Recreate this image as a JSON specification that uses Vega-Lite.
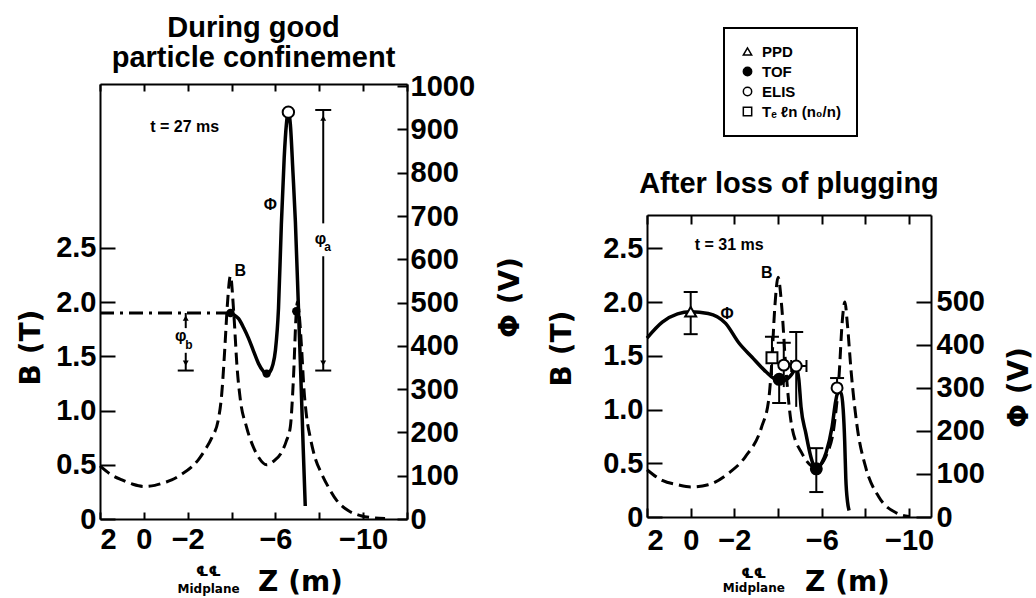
{
  "$schema": "https://vega.github.io/schema/vega-lite/v6.json",
  "background": "white",
  "padding": {"left": 17, "top": 14, "right": 0, "bottom": 0},
  "bounds": "flush",
  "spacing": 240,
  "config": {
    "view": {"stroke": null},
    "axis": {"domainColor": "black", "domainWidth": 2, "tickColor": "black", "tickWidth": 2, "labelColor": "black", "labelFont": "Liberation Sans", "labelFontWeight": "bold", "labelFontSize": 29, "grid": false, "titleColor": "black", "labelOverlap": false, "titleFont": "DejaVu Sans", "titleFontWeight": "bold", "titleFontSize": 28},
    "legend": {"strokeWidth": 2}
  },
  "datasets": {
    "bL": [{"z":2,"b":0.49},{"z":1.5,"b":0.41},{"z":1,"b":0.36},{"z":0.5,"b":0.32},{"z":0,"b":0.30},{"z":-0.5,"b":0.31},{"z":-1.0,"b":0.34},{"z":-1.27,"b":0.36},{"z":-1.7,"b":0.41},{"z":-2.18,"b":0.48},{"z":-2.5,"b":0.55},{"z":-2.8,"b":0.64},{"z":-3.1,"b":0.75},{"z":-3.4,"b":0.92},{"z":-3.55,"b":1.15},{"z":-3.7,"b":1.6},{"z":-3.8,"b":1.95},{"z":-3.95,"b":2.24},{"z":-4.1,"b":1.9},{"z":-4.25,"b":1.4},{"z":-4.4,"b":1.1},{"z":-4.68,"b":0.85},{"z":-5.0,"b":0.66},{"z":-5.23,"b":0.57},{"z":-5.6,"b":0.50},{"z":-5.9,"b":0.53},{"z":-6.27,"b":0.61},{"z":-6.5,"b":0.72},{"z":-6.68,"b":0.85},{"z":-6.82,"b":1.29},{"z":-6.95,"b":1.9},{"z":-7.0,"b":2.0},{"z":-7.1,"b":1.85},{"z":-7.2,"b":1.55},{"z":-7.3,"b":1.2},{"z":-7.4,"b":0.98},{"z":-7.6,"b":0.74},{"z":-7.8,"b":0.57},{"z":-8.1,"b":0.42},{"z":-8.4,"b":0.30},{"z":-8.8,"b":0.17},{"z":-9.3,"b":0.08},{"z":-9.9,"b":0.03},{"z":-10.5,"b":0.01},{"z":-11.0,"b":0.005}],
    "phiL": [{"z":-3.95,"phi":476},{"z":-4.1,"phi":472},{"z":-4.32,"phi":463},{"z":-4.55,"phi":442},{"z":-4.77,"phi":418},{"z":-5.0,"phi":388},{"z":-5.23,"phi":359},{"z":-5.45,"phi":341},{"z":-5.6,"phi":335},{"z":-5.75,"phi":340},{"z":-5.88,"phi":356},{"z":-6.0,"phi":390},{"z":-6.14,"phi":487},{"z":-6.27,"phi":680},{"z":-6.4,"phi":835},{"z":-6.5,"phi":912},{"z":-6.59,"phi":940},{"z":-6.68,"phi":912},{"z":-6.8,"phi":800},{"z":-6.91,"phi":687},{"z":-7.05,"phi":487},{"z":-7.18,"phi":297},{"z":-7.27,"phi":159},{"z":-7.36,"phi":30}],
    "dashL": [{"z":2,"phi":476},{"z":-3.95,"phi":476}],
    "openL": [{"z":-6.59,"phi":940}],
    "filledL": [{"z":-3.95,"phi":476},{"z":-5.6,"phi":336},{"z":-6.95,"phi":480}],
    "ruleL": [{"z":-8.18,"phi":945,"phi2":683},{"z":-8.18,"phi":607,"phi2":343},{"z":-1.91,"phi":476,"phi2":441},{"z":-1.91,"phi":384,"phi2":343}],
    "capL": [{"z":-8.18,"phi":945},{"z":-8.18,"phi":343},{"z":-1.91,"phi":343}],
    "upL": [{"z":-8.18,"phi":926},{"z":-1.91,"phi":464}],
    "downL": [{"z":-8.18,"phi":360},{"z":-1.91,"phi":360}],
    "t16L": [{"z":-1.86,"phi":906,"label":"t = 27 ms"}],
    "t15L": [{"z":-5.77,"phi":726,"label":"Φ"},{"z":-4.4,"phi":572,"label":"B"},{"z":-8.05,"phi":646,"label":"φ"},{"z":-1.68,"phi":423,"label":"φ"}],
    "subL": [{"z":-8.38,"phi":628,"label":"a"},{"z":-2.05,"phi":402,"label":"b"}],
    "clL": [{"z":-2.95,"phi":-122,"label":"℄℄"}],
    "midL": [{"z":-2.95,"phi":-161,"label":"Midplane"}],
    "bR": [{"z":2,"b":0.44},{"z":1.3,"b":0.34},{"z":0.6,"b":0.30},{"z":0,"b":0.28},{"z":-0.8,"b":0.30},{"z":-1.75,"b":0.41},{"z":-2.5,"b":0.56},{"z":-3.25,"b":0.84},{"z":-3.57,"b":1.09},{"z":-3.7,"b":1.40},{"z":-3.85,"b":1.95},{"z":-4.0,"b":2.23},{"z":-4.17,"b":1.95},{"z":-4.35,"b":1.40},{"z":-4.63,"b":0.84},{"z":-5.1,"b":0.59},{"z":-5.73,"b":0.46},{"z":-6.24,"b":0.59},{"z":-6.56,"b":0.84},{"z":-6.8,"b":1.34},{"z":-6.93,"b":1.80},{"z":-7.06,"b":2.0},{"z":-7.17,"b":1.80},{"z":-7.35,"b":1.34},{"z":-7.62,"b":0.84},{"z":-8.0,"b":0.47},{"z":-8.6,"b":0.19},{"z":-9.4,"b":0.04},{"z":-10.0,"b":0.005}],
    "phiR": [{"z":2,"phi":416},{"z":1.3,"phi":453},{"z":0.6,"phi":472},{"z":0,"phi":477},{"z":-0.8,"phi":473},{"z":-1.6,"phi":450},{"z":-2.2,"phi":405},{"z":-2.8,"phi":372},{"z":-3.46,"phi":337},{"z":-3.9,"phi":320},{"z":-4.3,"phi":318},{"z":-4.6,"phi":330},{"z":-4.85,"phi":346},{"z":-4.95,"phi":320},{"z":-5.05,"phi":256},{"z":-5.27,"phi":195},{"z":-5.5,"phi":140},{"z":-5.73,"phi":112},{"z":-6.0,"phi":126},{"z":-6.2,"phi":150},{"z":-6.47,"phi":209},{"z":-6.64,"phi":270},{"z":-6.75,"phi":292},{"z":-6.88,"phi":288},{"z":-6.98,"phi":250},{"z":-7.05,"phi":175},{"z":-7.1,"phi":90},{"z":-7.18,"phi":35},{"z":-7.25,"phi":15}],
    "ptsR": [{"z":0,"phi":477,"method":"PPD"},{"z":-4.05,"phi":320,"method":"TOF"},{"z":-5.75,"phi":112,"method":"TOF"},{"z":-4.26,"phi":353,"method":"ELIS"},{"z":-4.83,"phi":351,"method":"ELIS"},{"z":-6.7,"phi":300,"method":"ELIS"},{"z":-3.72,"phi":370,"method":"Tₑ ℓn (n₀/n)"}],
    "errR": [{"z":0,"phi":425,"phi2":523},{"z":-3.72,"phi":330,"phi2":419},{"z":-4.05,"phi":265,"phi2":320},{"z":-4.26,"phi":302,"phi2":405},{"z":-4.83,"phi":256,"phi2":430},{"z":-5.75,"phi":58,"phi2":160},{"z":-6.7,"phi":300,"phi2":323}],
    "capR": [{"z":0,"phi":425},{"z":0,"phi":523},{"z":-3.72,"phi":419},{"z":-4.05,"phi":265},{"z":-4.26,"phi":405},{"z":-4.83,"phi":430},{"z":-5.75,"phi":58},{"z":-5.75,"phi":160},{"z":-6.7,"phi":323}],
    "herrR": [{"z":-4.6,"z2":-5.3,"phi":351}],
    "vcapR": [{"z":-4.6,"phi":351},{"z":-5.3,"phi":351}],
    "t16R": [{"z":-1.76,"phi":632,"label":"t = 31 ms"}],
    "t15R": [{"z":-1.67,"phi":472,"label":"Φ"},{"z":-3.48,"phi":567,"label":"B"}],
    "clR": [{"z":-2.89,"phi":-133,"label":"℄℄"}],
    "midR": [{"z":-2.89,"phi":-165,"label":"Midplane"}]
  },
  "resolve": {"scale": {"shape": "independent", "fill": "independent", "stroke": "independent"}, "legend": {"shape": "independent", "fill": "independent", "stroke": "independent"}},
  "hconcat": [
    {
      "width": 307,
      "height": 435,
      "title": {"text": ["During good", "particle confinement"], "font": "Liberation Sans", "fontSize": 29, "fontWeight": "bold", "lineHeight": 30, "offset": -1, "frame": "group", "anchor": "middle", "color": "black"},
      "resolve": {"scale": {"y": "independent"}, "axis": {"x": "independent", "y": "independent"}},
      "layer": [
        {
          "encoding": {
            "x": {"field": "z", "type": "quantitative", "scale": {"domain": [-12, 2], "reverse": true, "nice": false, "zero": false},
                  "axis": {"orient": "bottom", "values": [2,0,-2,-4,-6,-8,-10,-12], "labelExpr": "(datum.value == -4 || datum.value == -8 || datum.value == -12) ? '' : datum.label", "tickSize": -7, "labelPadding": 13, "title": "Z  (m)", "titleX": 200, "titleY": 63, "titleBaseline": "middle", "titleAlign": "center"}},
            "y": {"field": "b", "type": "quantitative", "scale": {"domain": [0, 4.01], "nice": false, "zero": false},
                  "axis": {"orient": "left", "values": [0,0.5,1,1.5,2,2.5], "labelExpr": "datum.value == 0 ? '0' : format(datum.value, '.1f')", "tickSize": -15, "labelPadding": 19, "title": "B  (T)", "titleX": -69, "titleY": 263, "titleAngle": -90, "titleAlign": "center", "titleBaseline": "middle"}}
          },
          "layer": [
            {"data": {"name": "bL"}, "mark": {"type": "line", "stroke": "black", "strokeWidth": 3, "strokeDash": [12, 6], "interpolate": "monotone"}}
          ]
        },
        {
          "encoding": {
            "x": {"field": "z", "type": "quantitative", "scale": {"domain": [-12, 2], "reverse": true, "nice": false, "zero": false},
                  "axis": {"orient": "top", "values": [2,0,-2,-4,-6,-8,-10,-12], "labels": false, "tickSize": -7, "title": null}},
            "y": {"field": "phi", "type": "quantitative", "scale": {"domain": [0, 1005], "nice": false, "zero": false},
                  "axis": {"orient": "right", "values": [0,100,200,300,400,500,600,700,800,900,1000], "format": "d", "tickSize": -10, "labelPadding": 13, "title": "Φ  (V)", "titleX": 103, "titleY": 213, "titleAngle": -90, "titleAlign": "center", "titleBaseline": "middle"}}
          },
          "layer": [
            {"data": {"name": "dashL"}, "mark": {"type": "line", "stroke": "black", "strokeWidth": 3, "strokeDash": [14, 6, 3, 6]}},
            {"data": {"name": "phiL"}, "mark": {"type": "line", "stroke": "black", "strokeWidth": 3.5, "interpolate": "monotone"}},
            {"data": {"name": "ruleL"}, "mark": {"type": "rule", "color": "black", "strokeWidth": 2}, "encoding": {"y2": {"field": "phi2"}}},
            {"data": {"name": "capL"}, "mark": {"type": "tick", "orient": "horizontal", "size": 16, "thickness": 2, "color": "black", "opacity": 1}},
            {"data": {"name": "upL"}, "mark": {"type": "point", "shape": "triangle-up", "filled": true, "color": "black", "size": 35, "opacity": 1}},
            {"data": {"name": "downL"}, "mark": {"type": "point", "shape": "triangle-down", "filled": true, "color": "black", "size": 35, "opacity": 1}},
            {"data": {"name": "filledL"}, "mark": {"type": "point", "shape": "circle", "filled": true, "color": "black", "size": 70, "opacity": 1}},
            {"data": {"name": "openL"}, "mark": {"type": "point", "shape": "circle", "filled": true, "fill": "white", "stroke": "black", "strokeWidth": 2, "size": 130, "opacity": 1}},
            {"data": {"name": "t16L"}, "mark": {"type": "text", "font": "Liberation Sans", "fontWeight": "bold", "fontSize": 16, "color": "black"}, "encoding": {"text": {"field": "label"}}},
            {"data": {"name": "t15L"}, "mark": {"type": "text", "font": "Liberation Sans", "fontWeight": "bold", "fontSize": 16, "color": "black"}, "encoding": {"text": {"field": "label"}}},
            {"data": {"name": "subL"}, "mark": {"type": "text", "font": "Liberation Sans", "fontWeight": "bold", "fontSize": 12, "color": "black"}, "encoding": {"text": {"field": "label"}}},
            {"data": {"name": "clL"}, "mark": {"type": "text", "font": "DejaVu Sans", "fontWeight": "bold", "fontSize": 14, "color": "black"}, "encoding": {"text": {"field": "label"}}},
            {"data": {"name": "midL"}, "mark": {"type": "text", "font": "DejaVu Sans", "fontWeight": "bold", "fontSize": 12, "color": "black"}, "encoding": {"text": {"field": "label"}}}
          ]
        }
      ]
    },
    {
      "bounds": "flush",
      "spacing": 51,
      "resolve": {"scale": {"shape": "independent", "fill": "independent", "stroke": "independent"}, "legend": {"shape": "independent", "fill": "independent", "stroke": "independent"}},
      "vconcat": [
        {"width": 284, "height": 80,
         "title": {"text": "After loss of plugging", "orient": "bottom", "font": "Liberation Sans", "fontSize": 29, "fontWeight": "bold", "offset": 6, "anchor": "middle", "color": "black"},
         "data": {"values": [{"a": 1}]}, "mark": {"type": "text", "text": ""}},
        {
          "width": 284,
          "height": 302,
          "resolve": {"scale": {"y": "independent"}, "axis": {"x": "independent", "y": "independent"}},
          "layer": [
            {
              "encoding": {
                "x": {"field": "z", "type": "quantitative", "scale": {"domain": [-11, 2], "reverse": true, "nice": false, "zero": false},
                      "axis": {"orient": "bottom", "values": [2,0,-2,-4,-6,-8,-10], "labelExpr": "(datum.value == -4 || datum.value == -8) ? '' : datum.label", "tickSize": -9, "labelPadding": 18, "title": "Z  (m)", "titleX": 200, "titleY": 65, "titleBaseline": "middle", "titleAlign": "center"}},
                "y": {"field": "b", "type": "quantitative", "scale": {"domain": [0, 2.81], "nice": false, "zero": false},
                      "axis": {"orient": "left", "values": [0,0.5,1,1.5,2,2.5], "labelExpr": "datum.value == 0 ? '0' : format(datum.value, '.1f')", "tickSize": -15, "labelPadding": 19, "title": "B  (T)", "titleX": -85, "titleY": 133, "titleAngle": -90, "titleAlign": "center", "titleBaseline": "middle"}}
              },
              "layer": [
                {"data": {"name": "bR"}, "mark": {"type": "line", "stroke": "black", "strokeWidth": 3, "strokeDash": [12, 6], "interpolate": "monotone"}}
              ]
            },
            {
              "encoding": {
                "x": {"field": "z", "type": "quantitative", "scale": {"domain": [-11, 2], "reverse": true, "nice": false, "zero": false},
                      "axis": {"orient": "top", "values": [2,0,-2,-4,-6,-8,-10], "labels": false, "tickSize": -9, "title": null}},
                "y": {"field": "phi", "type": "quantitative", "scale": {"domain": [0, 702], "nice": false, "zero": false},
                      "axis": {"orient": "right", "values": [0,100,200,300,400,500], "format": "d", "tickSize": -15, "labelPadding": 20, "title": "Φ  (V)", "titleX": 88, "titleY": 172, "titleAngle": -90, "titleAlign": "center", "titleBaseline": "middle"}}
              },
              "layer": [
                {"data": {"name": "phiR"}, "mark": {"type": "line", "stroke": "black", "strokeWidth": 3.5, "interpolate": "monotone"}},
                {"data": {"name": "errR"}, "mark": {"type": "rule", "color": "black", "strokeWidth": 2}, "encoding": {"y2": {"field": "phi2"}}},
                {"data": {"name": "capR"}, "mark": {"type": "tick", "orient": "horizontal", "size": 14, "thickness": 2, "color": "black", "opacity": 1}},
                {"data": {"name": "herrR"}, "mark": {"type": "rule", "color": "black", "strokeWidth": 2}, "encoding": {"x2": {"field": "z2"}}},
                {"data": {"name": "vcapR"}, "mark": {"type": "tick", "orient": "vertical", "size": 12, "thickness": 2, "color": "black", "opacity": 1}},
                {"data": {"name": "ptsR"}, "mark": {"type": "point", "filled": true, "strokeWidth": 2, "size": 120, "opacity": 1},
                 "encoding": {
                   "shape": {"field": "method", "type": "nominal", "scale": {"domain": ["PPD", "TOF", "ELIS", "Tₑ ℓn (n₀/n)"], "range": ["triangle-up", "circle", "circle", "square"]},
                             "legend": {"title": null, "orient": "none", "legendX": 77, "legendY": -187, "strokeColor": "black", "padding": 16, "rowPadding": 4, "labelFont": "Liberation Sans", "labelFontWeight": "bold", "labelFontSize": 15, "labelColor": "black", "symbolSize": 70, "symbolStrokeWidth": 1.5, "labelOffset": 7}},
                   "fill": {"field": "method", "type": "nominal", "scale": {"domain": ["PPD", "TOF", "ELIS", "Tₑ ℓn (n₀/n)"], "range": ["white", "black", "white", "white"]},
                             "legend": {"title": null, "orient": "none", "legendX": 77, "legendY": -187, "strokeColor": "black", "padding": 16, "rowPadding": 4, "labelFont": "Liberation Sans", "labelFontWeight": "bold", "labelFontSize": 15, "labelColor": "black", "symbolSize": 70, "symbolStrokeWidth": 1.5, "labelOffset": 7}},
                   "stroke": {"field": "method", "type": "nominal", "scale": {"domain": ["PPD", "TOF", "ELIS", "Tₑ ℓn (n₀/n)"], "range": ["black", "black", "black", "black"]},
                             "legend": {"title": null, "orient": "none", "legendX": 77, "legendY": -187, "strokeColor": "black", "padding": 16, "rowPadding": 4, "labelFont": "Liberation Sans", "labelFontWeight": "bold", "labelFontSize": 15, "labelColor": "black", "symbolSize": 70, "symbolStrokeWidth": 1.5, "labelOffset": 7}}
                 }},
                {"data": {"name": "t16R"}, "mark": {"type": "text", "font": "Liberation Sans", "fontWeight": "bold", "fontSize": 16, "color": "black"}, "encoding": {"text": {"field": "label"}}},
                {"data": {"name": "t15R"}, "mark": {"type": "text", "font": "Liberation Sans", "fontWeight": "bold", "fontSize": 16, "color": "black"}, "encoding": {"text": {"field": "label"}}},
                {"data": {"name": "clR"}, "mark": {"type": "text", "font": "DejaVu Sans", "fontWeight": "bold", "fontSize": 14, "color": "black"}, "encoding": {"text": {"field": "label"}}},
                {"data": {"name": "midR"}, "mark": {"type": "text", "font": "DejaVu Sans", "fontWeight": "bold", "fontSize": 12, "color": "black"}, "encoding": {"text": {"field": "label"}}}
              ]
            }
          ]
        }
      ]
    }
  ]
}
